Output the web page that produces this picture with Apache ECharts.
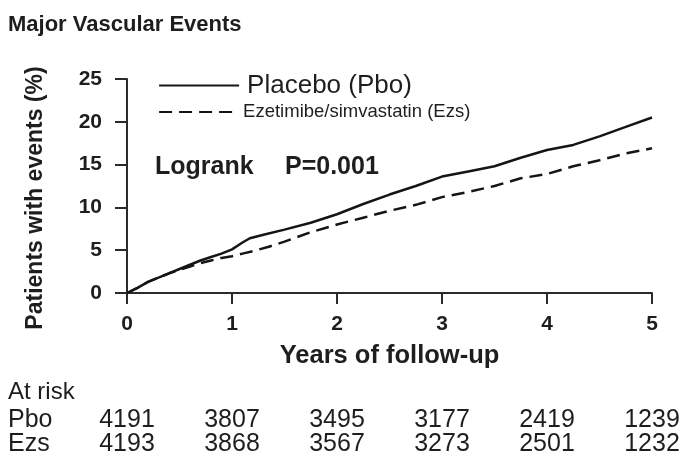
<!DOCTYPE html>
<html>
<head>
<meta charset="utf-8">
<script src="https://cdn.jsdelivr.net/npm/echarts@6/dist/echarts.min.js"></script>
<style>html,body{margin:0;padding:0;background:#fff;}#c{width:684px;height:462px;}</style>
</head>
<body>
<div id="c"></div>
<script>
var pboYears = [0, 0.1, 0.2, 0.3, 0.4, 0.5, 0.6, 0.7, 0.8, 0.9, 1.0, 1.1, 1.17, 1.3, 1.5, 1.75, 2.0, 2.25, 2.5, 2.75, 3.0, 3.25, 3.5, 3.75, 4.0, 4.25, 4.5, 4.75, 5.0];
var pboValues = [0, 0.6, 1.3, 1.8, 2.3, 2.8, 3.3, 3.8, 4.2, 4.6, 5.1, 5.9, 6.4, 6.8, 7.4, 8.2, 9.2, 10.4, 11.5, 12.5, 13.6, 14.2, 14.8, 15.8, 16.7, 17.3, 18.3, 19.4, 20.5];
var ezsYears = [0, 0.1, 0.2, 0.3, 0.4, 0.5, 0.6, 0.7, 0.8, 0.9, 1.0, 1.1, 1.2, 1.35, 1.5, 1.75, 2.0, 2.25, 2.5, 2.75, 3.0, 3.25, 3.5, 3.75, 4.0, 4.25, 4.5, 4.75, 5.0];
var ezsValues = [0, 0.6, 1.3, 1.8, 2.3, 2.7, 3.1, 3.5, 3.8, 4.1, 4.3, 4.6, 4.9, 5.4, 6.0, 7.1, 8.0, 8.8, 9.6, 10.3, 11.2, 11.8, 12.5, 13.4, 13.9, 14.8, 15.5, 16.3, 16.9];
var riskYears = [0, 1, 2, 3, 4, 5];
var pboAtRisk = [4191, 3807, 3495, 3177, 2419, 1239];
var ezsAtRisk = [4193, 3868, 3567, 3273, 2501, 1232];
var seriesNames = ['Placebo (Pbo)', 'Ezetimibe/simvastatin (Ezs)'];
var titleText = 'Major Vascular Events';
var yTitle = 'Patients with events (%)';
var xTitle = 'Years of follow-up';

function pairs(xs, ys) { return xs.map(function (x, i) { return [x, ys[i]]; }); }
function riskLabel(arr) {
  return function (v) { var i = riskYears.indexOf(Math.round(v)); return i >= 0 ? String(arr[i]) : ''; };
}
var FONT = '"Liberation Sans", Arial, sans-serif';
var INK = '#1e1e1e';
var chart = echarts.init(document.getElementById('c'), null, { renderer: 'canvas' });

function riskAxis(arr, margin) {
  return {
    type: 'value', gridIndex: 0, position: 'bottom', min: 0, max: 5, interval: 1,
    axisLine: { show: false }, axisTick: { show: false }, splitLine: { show: false },
    axisLabel: { show: true, margin: margin, verticalAlign: 'middle', formatter: riskLabel(arr),
      fontFamily: FONT, fontSize: 25, color: INK }
  };
}

chart.setOption({
  animation: false,
  backgroundColor: '#ffffff',
  grid: { left: 127, right: 32, top: 79, bottom: 169, containLabel: false },
  legend: {
    orient: 'vertical', left: 153, top: 67, itemWidth: 80, itemHeight: 14, itemGap: 3,
    selectedMode: false,
    itemStyle: { opacity: 0 },
    lineStyle: { width: 2.2, color: '#151515' },
    data: [
      { name: seriesNames[0], textStyle: { fontFamily: FONT, fontSize: 26, lineHeight: 27, color: INK, padding: [0, 0, 0, 3] } },
      { name: seriesNames[1], textStyle: { fontFamily: FONT, fontSize: 18.5, lineHeight: 20, color: INK, padding: [0, 0, 0, -1] } }
    ]
  },
  xAxis: [
    {
      type: 'value', min: 0, max: 5, interval: 1,
      name: xTitle, nameLocation: 'middle', nameGap: 63,
      nameTextStyle: { fontFamily: FONT, fontSize: 25.5, fontWeight: 'bold', color: INK, verticalAlign: 'middle' },
      axisLine: { show: true, onZero: false, lineStyle: { color: '#2a2a2a', width: 2 } },
      axisTick: { show: true, inside: false, length: 11, lineStyle: { color: '#2a2a2a', width: 2 } },
      splitLine: { show: false },
      axisLabel: { margin: 31, verticalAlign: 'middle', fontFamily: FONT, fontSize: 21, fontWeight: 'bold', color: INK }
    },
    riskAxis(pboAtRisk, 127),
    riskAxis(ezsAtRisk, 151)
  ],
  yAxis: {
    type: 'value', min: 0, max: 25, interval: 5,
    axisLine: { show: true, lineStyle: { color: '#2a2a2a', width: 2 } },
    axisTick: { show: true, inside: false, length: 12, lineStyle: { color: '#2a2a2a', width: 2 } },
    splitLine: { show: false },
    axisLabel: { margin: 25, fontFamily: FONT, fontSize: 21, fontWeight: 'bold', color: INK }
  },
  series: [
    { name: seriesNames[0], type: 'line', xAxisIndex: 0, data: pairs(pboYears, pboValues), symbol: 'none', smooth: false,
      lineStyle: { color: '#151515', width: 2.5, type: 'solid' }, itemStyle: { color: '#151515' } },
    { name: seriesNames[1], type: 'line', xAxisIndex: 0, data: pairs(ezsYears, ezsValues), symbol: 'none', smooth: false,
      lineStyle: { color: '#151515', width: 2.5, type: [13, 7] }, itemStyle: { color: '#151515' } }
  ],
  graphic: [
    { type: 'text', left: 8, top: 14, style: { text: titleText, fontFamily: FONT, fontSize: 22, fontWeight: 'bold', fill: INK } },
    { type: 'text', x: 36, y: 198, rotation: Math.PI / 2,
      style: { text: yTitle, fontFamily: FONT, fontSize: 23, fontWeight: 'bold', fill: INK, align: 'center', verticalAlign: 'middle' } },
    { type: 'text', x: 155, y: 167, style: { text: 'Logrank', fontFamily: FONT, fontSize: 25, fontWeight: 'bold', fill: INK, verticalAlign: 'middle' } },
    { type: 'text', x: 285, y: 167, style: { text: 'P=0.001', fontFamily: FONT, fontSize: 25, fontWeight: 'bold', fill: INK, verticalAlign: 'middle' } },
    { type: 'text', x: 8, y: 392, style: { text: 'At risk', fontFamily: FONT, fontSize: 24, fill: INK, verticalAlign: 'middle' } },
    { type: 'text', x: 8, y: 420, style: { text: 'Pbo', fontFamily: FONT, fontSize: 25, fill: INK, verticalAlign: 'middle' } },
    { type: 'text', x: 8, y: 444, style: { text: 'Ezs', fontFamily: FONT, fontSize: 25, fill: INK, verticalAlign: 'middle' } }
  ]
});
</script>
</body>
</html>
